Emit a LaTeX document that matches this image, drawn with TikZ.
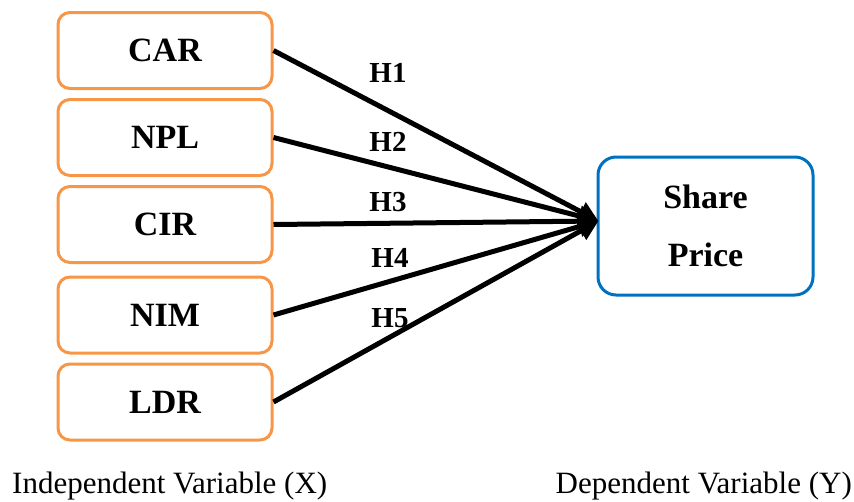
\documentclass[tikz,border=0pt]{standalone}
\usepackage{fontspec}
\setmainfont{Liberation Serif}
\usepackage{xcolor}
\usetikzlibrary{arrows.meta,positioning}
\definecolor{boxorange}{RGB}{247,150,70}
\definecolor{boxblue}{RGB}{0,112,192}

\begin{document}
\begin{tikzpicture}[x=1pt, y=-1pt, node distance=87pt,
  indep/.style={rectangle, rounded corners=12pt, minimum width=214pt, minimum height=76pt, text centered, draw=boxorange, line width=3pt, font=\fontsize{34}{40}\selectfont\bfseries},
  dep/.style={rectangle, rounded corners=18pt, minimum width=215pt, minimum height=138pt, align=center, draw=boxblue, line width=3pt, font=\fontsize{34}{58}\selectfont\bfseries},
  hyp/.style={font=\fontsize{29}{34}\selectfont\bfseries},
  axislabel/.style={inner sep=0pt, font=\fontsize{31}{36}\selectfont},
  link/.style={-{Triangle[length=20pt,width=20pt]}, line width=5pt}]
\useasboundingbox (0,0) rectangle (854,501);

\node (car) [indep] at (165,50.5) {CAR};

\node (npl) [indep, below of=car] {NPL};

\node (cir) [indep, below of=npl] {CIR};

\node (nim) [indep, below of=cir, yshift=-3.5pt] {NIM};

\node (ldr) [indep, below of=nim] {LDR};

\node (price) [dep] at (705.5,226) {Share\\Price};
\coordinate (hub) at ([xshift=2pt, yshift=5pt]price.west);

\node (h1) [hyp] at (388,73) {H1};
\node (h2) [hyp] at (388,142) {H2};
\node (h3) [hyp] at (388,202) {H3};
\node (h4) [hyp] at (390,258) {H4};
\node (h5) [hyp] at (390,318) {H5};

\node (xlabel) [axislabel, anchor=base west] at (12,493) {Independent Variable (X)};
\node (ylabel) [axislabel, anchor=base east] at (852,493) {Dependent Variable (Y)};

\draw[link] (car.east) -- (hub);
\draw[link] (npl.east) -- (hub);
\draw[link] (cir.east) -- (hub);
\draw[link] (nim.east) -- (hub);
\draw[link] (ldr.east) -- (hub);

\end{tikzpicture}
\end{document}
